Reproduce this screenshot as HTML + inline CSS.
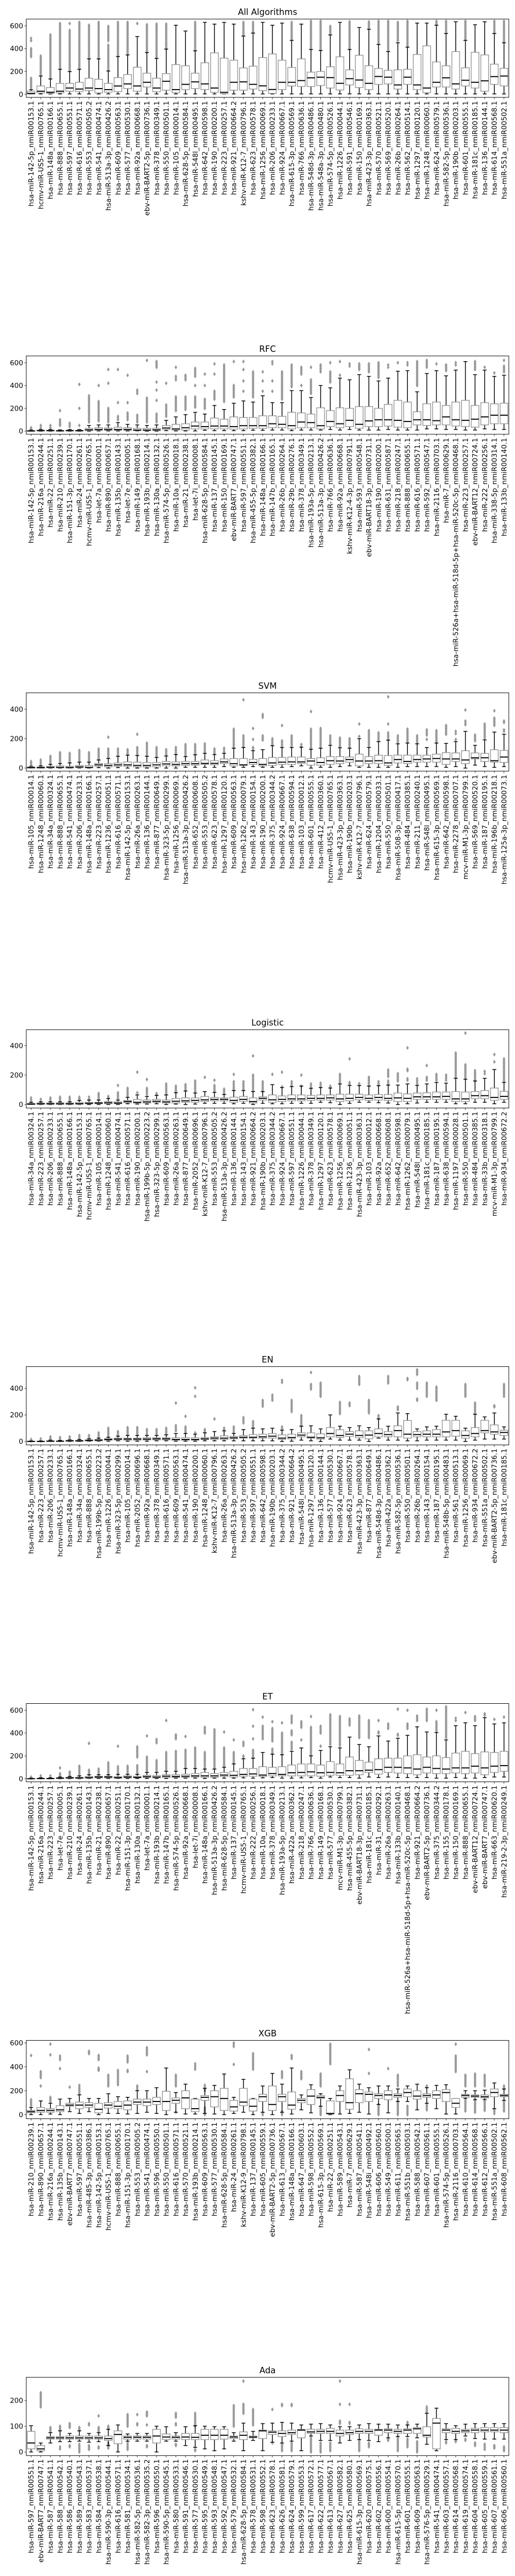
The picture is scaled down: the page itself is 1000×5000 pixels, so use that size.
<!DOCTYPE html>
<html><head><meta charset="utf-8"><style>
html,body{margin:0;padding:0;background:#fff;}
svg{display:block;font-family:"DejaVu Sans","Liberation Sans",sans-serif;}
</style></head><body>
<svg id="chart" width="1000" height="5000" viewBox="0 0 1000 5000" xmlns="http://www.w3.org/2000/svg"></svg>
<script>
const LONG = "hsa-miR-526a+hsa-miR-518d-5p+hsa-miR-520c-5p_nmiR00468.1";
const panelTitles = ["All Algorithms","RFC","SVM","Logistic","EN","ET","XGB","Ada"];
const panelYLims = [[-27,659],[-27,659],[-21,512],[-24,508],[-26,564],[-27,659],[-34,621],[-14,290]];
const panelTicks = [[0,200,400,600],[0,200,400,600],[0,200,400],[0,200,400],[0,200,400],[0,200,400,600],[0,200,400,600],[0,100,200]];

const allLabels = ["hsa-miR-142-5p_nmiR00153.1","hcmv-miR-US5-1_nmiR00765.1","hsa-miR-148a_nmiR00166.1","hsa-miR-888_nmiR00655.1","hsa-miR-597_nmiR00551.1","hsa-miR-616_nmiR00571.1","hsa-miR-553_nmiR00505.2","hsa-miR-541_nmiR00474.1","hsa-miR-513a-3p_nmiR00426.2","hsa-miR-609_nmiR00563.1","hsa-miR-577_nmiR00530.1","hsa-miR-92a_nmiR00668.1","ebv-miR-BART2-5p_nmiR00736.1","hsa-miR-378_nmiR00349.1","hsa-miR-550_nmiR00501.1","hsa-miR-105_nmiR00014.1","hsa-miR-628-5p_nmiR00584.1","hsa-miR-548l_nmiR00495.1","hsa-miR-642_nmiR00598.1","hsa-miR-190_nmiR00200.1","hsa-miR-223_nmiR00257.1","hsa-miR-921_nmiR00664.2","kshv-miR-K12-7_nmiR00796.1","hsa-miR-623_nmiR00578.1","hsa-miR-1256_nmiR00069.1","hsa-miR-206_nmiR00233.1","hsa-miR-924_nmiR00667.1","hsa-miR-615-3p_nmiR00569.1","hsa-miR-766_nmiR00636.1","hsa-miR-548d-3p_nmiR00486.1","hsa-miR-548a-3p_nmiR00480.1","hsa-miR-574-5p_nmiR00526.1","hsa-miR-1226_nmiR00044.1","hsa-miR-591_nmiR00546.1","hsa-miR-150_nmiR00169.1","hsa-miR-423-3p_nmiR00363.1","hsa-miR-570_nmiR00521.1","hsa-miR-569_nmiR00520.1","hsa-miR-26b_nmiR00264.1","hsa-miR-562_nmiR00514.1","hsa-miR-1297_nmiR00120.1","hsa-miR-1248_nmiR00060.1","hsa-miR-624_nmiR00579.1","hsa-miR-582-5p_nmiR00536.1","hsa-miR-190b_nmiR00203.1","hsa-miR-601_nmiR00555.1","hsa-miR-181c_nmiR00185.1","hsa-miR-136_nmiR00144.1","hsa-miR-614_nmiR00568.1","hsa-miR-551a_nmiR00502.1"];
const allStats = [[3,2,8,27,40],[3,12,27,73,160],[3,8,18,59,134],[3,12,27,96,219],[3,27,55,96,199],[3,23,46,105,219],[3,32,55,141,310],[3,12,50,132,310],[3,18,41,96,204],[3,23,73,146,331],[3,50,91,173,345],[3,27,73,237,506],[3,64,105,185,365],[3,23,55,141,314],[3,36,114,181,396],[3,14,41,260,605],[3,41,87,250,554],[3,50,109,185,381],[3,41,91,276,630],[3,17,55,363,615],[3,5,17,317,630],[3,36,105,299,615],[3,36,109,231,510],[3,46,87,246,536],[3,32,74,322,630],[3,8,42,354,605],[3,41,105,299,624],[3,73,105,235,472],[3,68,120,310,615],[3,68,144,194,392],[3,77,150,200,383],[3,55,146,241,520],[3,38,96,328,630],[3,82,137,214,392],[3,59,125,342,585],[3,41,96,250,570],[3,87,156,226,436],[3,91,150,210,374],[3,46,82,214,451],[3,87,150,219,413],[3,41,82,349,624],[3,14,55,424,624],[3,64,105,283,605],[3,64,144,250,532],[3,46,91,374,635],[3,73,123,232,472],[3,55,105,368,609],[3,27,118,345,635],[3,87,155,264,532],[3,73,160,228,451]];
const allFliers = [[[55,140],[330,400],[470,490]],[[170,335]],[[140,520]],[[225,620]],[[205,560],[620,620]],[[225,630]],[[315,605]],[[315,630]],[[210,430],[470,595]],[[335,630]],[[350,630]],[[620,620]],[[370,610]],[[320,615]],[[400,615]],[],[],[[385,630]],[],[],[],[],[[520,630]],[[545,630]],[],[],[],[[480,630]],[],[[400,640]],[[390,640]],[[530,595]],[],[[400,635]],[],[[580,635]],[[445,640]],[[380,640]],[[470,630]],[[420,640]],[],[],[[615,640]],[[540,640]],[],[[480,640]],[],[],[[540,640]],[[460,640]]];

const rfcLabels = ["hsa-miR-142-5p_nmiR00153.1","hsa-miR-216a_nmiR00244.1","hsa-miR-22_nmiR00251.1","hsa-miR-210_nmiR00239.1","hsa-miR-151-3p_nmiR00170.1","hsa-miR-24_nmiR00261.1","hcmv-miR-US5-1_nmiR00765.1","hsa-let-7a_nmiR00001.1","hsa-miR-890_nmiR00657.1","hsa-miR-135b_nmiR00143.1","hsa-let-7e_nmiR00005.1","hsa-miR-149_nmiR00168.1","hsa-miR-193b_nmiR00214.1","hsa-miR-130a_nmiR00132.1","hsa-miR-574-5p_nmiR00526.1","hsa-miR-10a_nmiR00018.1","hsa-miR-21_nmiR00238.1","hsa-let-7i_nmiR00008.1","hsa-miR-628-5p_nmiR00584.1","hsa-miR-137_nmiR00145.1","hsa-miR-150_nmiR00169.1","ebv-miR-BART7_nmiR00747.1","hsa-miR-597_nmiR00551.1","hsa-miR-455-5p_nmiR00382.1","hsa-miR-148a_nmiR00166.1","hsa-miR-147b_nmiR00165.1","hsa-miR-26b_nmiR00264.1","hsa-miR-29b_nmiR00276.1","hsa-miR-378_nmiR00349.1","hsa-miR-193a-5p_nmiR00213.1","hsa-miR-513a-3p_nmiR00426.2","hsa-miR-766_nmiR00636.1","hsa-miR-92a_nmiR00668.1","kshv-miR-K12-4-3p_nmiR00791.1","hsa-miR-593_nmiR00548.1","ebv-miR-BART18-3p_nmiR00731.1","hsa-miR-190_nmiR00200.1","hsa-miR-631_nmiR00587.1","hsa-miR-218_nmiR00247.1","hsa-miR-888_nmiR00655.1","hsa-miR-616_nmiR00571.1","hsa-miR-592_nmiR00547.1","hsa-miR-2116_nmiR00703.1","hsa-miR-7_nmiR00629.1",LONG,"hsa-miR-223_nmiR00257.1","ebv-miR-BART12_nmiR00724.1","hsa-miR-222_nmiR00256.1","hsa-miR-338-5p_nmiR00314.1","hsa-miR-133b_nmiR00140.1"];
const rfcStats = [[0,0,2,5,10],[0,2,5,8,15],[0,2,5,8,15],[0,1,3,6,12],[0,2,5,8,15],[0,2,4,8,15],[0,5,12,25,50],[2,8,15,30,55],[2,8,15,28,55],[2,8,15,35,75],[2,8,15,30,60],[2,5,10,25,55],[0,5,10,25,50],[0,5,12,25,55],[5,15,28,50,95],[2,10,20,60,125],[2,10,30,65,145],[2,20,45,80,165],[8,20,40,80,150],[5,20,45,115,225],[5,20,45,105,190],[5,18,40,125,245],[5,20,48,120,265],[8,25,48,120,255],[8,25,48,135,310],[10,30,65,135,250],[10,30,60,130,250],[5,20,48,165,355],[10,30,80,160,355],[10,30,75,150,295],[10,20,48,205,400],[15,40,85,180,380],[10,30,65,205,465],[15,40,95,200,450],[10,25,60,215,495],[10,40,90,215,480],[10,40,100,200,440],[15,45,100,235,465],[10,35,95,270,525],[10,30,85,255,530],[10,55,100,170,345],[20,50,100,240,505],[20,55,92,255,530],[15,55,125,225,485],[15,45,100,255,535],[10,40,95,270,610],[10,35,105,225,495],[20,55,125,250,535],[15,65,140,240,480],[15,65,140,245,490]];
const rfcFliers = [[[20,30]],[[30,50]],[[30,50]],[[50,100],[180,180]],[[40,70]],[[50,50],[200,200],[410,410]],[[80,310]],[[90,260],[400,400]],[[80,200],[420,420],[540,540]],[[100,130],[250,250],[540,540]],[[100,160],[250,250],[490,490]],[[80,140],[330,360]],[[80,290],[620,620]],[[80,150],[270,270],[360,360],[430,430],[560,610]],[[130,230],[420,420]],[[180,300],[450,480],[560,560]],[[190,300],[450,490]],[[210,300],[400,400],[480,550]],[[200,280],[400,400],[500,500]],[[280,350],[500,500],[590,590]],[[260,580]],[[300,400],[610,610]],[[350,350],[440,440],[540,540],[610,610]],[[300,520]],[[350,350],[440,440],[520,520]],[[350,350],[440,440],[590,610]],[[280,520]],[[390,580]],[[400,400],[500,560]],[[330,450],[560,560]],[[520,580]],[[430,520],[600,600]],[[490,490],[610,610]],[[570,590]],[[540,590]],[[520,590]],[[470,600]],[[560,580]],[[600,600]],[[580,600]],[[400,610]],[[560,620]],[[590,590]],[[530,580]],[[580,600]],[],[[540,610]],[[560,560]],[[510,510]],[[520,570],[620,620]]];

const svmLabels = ["hsa-miR-105_nmiR00014.1","hsa-miR-1248_nmiR00060.1","hsa-miR-34a_nmiR00324.1","hsa-miR-888_nmiR00655.1","hsa-miR-541_nmiR00474.1","hsa-miR-206_nmiR00233.1","hsa-miR-148a_nmiR00166.1","hsa-miR-223_nmiR00257.1","hsa-miR-1236_nmiR00051.1","hsa-miR-616_nmiR00571.1","hsa-miR-142-5p_nmiR00153.1","hsa-miR-26a_nmiR00263.1","hsa-miR-136_nmiR00144.1","hsa-miR-877_nmiR00649.1","hsa-miR-323-5p_nmiR00299.1","hsa-miR-1256_nmiR00069.1","hsa-miR-513a-3p_nmiR00426.2","hsa-miR-652_nmiR00608.1","hsa-miR-553_nmiR00505.2","hsa-miR-623_nmiR00578.1","hsa-miR-1297_nmiR00120.1","hsa-miR-609_nmiR00563.1","hsa-miR-1262_nmiR00079.1","hsa-miR-143_nmiR00154.1","hsa-miR-190_nmiR00200.1","hsa-miR-375_nmiR00344.2","hsa-miR-924_nmiR00667.1","hsa-miR-638_nmiR00594.1","hsa-miR-103_nmiR00012.1","hsa-miR-601_nmiR00555.1","hsa-miR-412_nmiR00360.1","hcmv-miR-US5-1_nmiR00765.1","hsa-miR-423-3p_nmiR00363.1","hsa-miR-190b_nmiR00203.1","kshv-miR-K12-7_nmiR00796.1","hsa-miR-624_nmiR00579.1","hsa-miR-1204_nmiR00033.1","hsa-miR-550_nmiR00501.1","hsa-miR-508-3p_nmiR00417.1","hsa-miR-484_nmiR00385.1","hsa-miR-211_nmiR00240.1","hsa-miR-548l_nmiR00495.1","hsa-miR-615-3p_nmiR00569.1","hsa-miR-642_nmiR00598.1","hsa-miR-2278_nmiR00707.1","mcv-miR-M1-3p_nmiR00799.1","hsa-miR-569_nmiR00520.1","hsa-miR-187_nmiR00195.1","hsa-miR-196b_nmiR00218.1","hsa-miR-125a-3p_nmiR00073.1"];
const svmStats = [[0,0,3,8,12],[0,0,3,8,15],[0,2,5,12,25],[0,2,5,15,30],[0,1,4,12,35],[0,3,8,18,40],[0,2,5,18,40],[3,12,22,32,55],[0,8,18,30,65],[3,12,22,35,80],[0,12,22,42,88],[0,8,18,40,85],[0,8,18,38,80],[0,8,22,38,72],[0,15,28,45,82],[0,15,25,42,92],[5,18,30,45,78],[5,20,30,45,90],[5,25,32,55,100],[5,22,32,50,92],[10,30,42,62,100],[5,15,30,65,135],[5,18,22,65,140],[10,25,38,60,118],[5,15,25,65,125],[5,18,35,72,152],[5,25,40,72,140],[10,25,42,75,140],[15,30,42,75,142],[0,20,48,65,128],[5,20,38,70,135],[5,25,50,78,155],[10,30,48,78,138],[15,40,58,75,135],[5,15,48,95,200],[5,30,48,78,140],[5,30,50,88,180],[5,18,35,85,190],[5,35,58,88,165],[10,30,45,88,170],[10,40,58,88,165],[10,40,62,88,140],[10,40,65,95,170],[5,25,62,105,168],[10,45,62,103,180],[0,30,55,118,250],[20,62,70,103,155],[10,45,70,100,192],[5,40,50,125,245],[10,38,75,120,230]];
const svmFliers = [[[15,45]],[[20,55]],[[30,80]],[[35,105]],[[40,100]],[[45,120]],[[45,105]],[[60,130]],[[70,130],[210,210]],[[85,130]],[[95,125]],[[90,140],[230,230]],[[85,170]],[[80,140]],[[90,125]],[[95,140]],[[85,160]],[[95,160]],[[110,165]],[[100,130]],[[110,135]],[[140,265]],[[145,220],[465,465]],[[130,140],[195,200],[270,270]],[[190,220],[345,365]],[[160,200]],[[150,185],[290,290]],[[150,220]],[[145,160]],[[130,265],[385,385]],[[140,270]],[[165,220]],[[145,205]],[[140,200]],[[215,220],[300,300]],[[150,255]],[[185,240]],[[195,240],[300,300],[485,485]],[[175,220]],[[175,265]],[[170,220]],[[195,200],[225,260]],[[175,255]],[[230,290]],[[195,200],[235,250]],[[295,320],[395,395]],[[185,225]],[[205,300]],[[290,340],[390,390]],[[250,260],[310,320]]];

const logLabels = ["hsa-miR-34a_nmiR00324.1","hsa-miR-223_nmiR00257.1","hsa-miR-206_nmiR00233.1","hsa-miR-888_nmiR00655.1","hsa-miR-148a_nmiR00166.1","hsa-miR-142-5p_nmiR00153.1","hcmv-miR-US5-1_nmiR00765.1","hsa-miR-105_nmiR00014.1","hsa-miR-1248_nmiR00060.1","hsa-miR-541_nmiR00474.1","hsa-miR-616_nmiR00571.1","hsa-miR-190_nmiR00200.1","hsa-miR-199b-5p_nmiR00223.2","hsa-miR-323-5p_nmiR00299.1","hsa-miR-609_nmiR00563.1","hsa-miR-26a_nmiR00263.1","hsa-miR-877_nmiR00649.1","hsa-miR-2052_nmiR00696.1","kshv-miR-K12-7_nmiR00796.1","hsa-miR-553_nmiR00505.2","hsa-miR-513a-3p_nmiR00426.2","hsa-miR-136_nmiR00144.1","hsa-miR-143_nmiR00154.1","hsa-miR-921_nmiR00664.2","hsa-miR-190b_nmiR00203.1","hsa-miR-375_nmiR00344.2","hsa-miR-924_nmiR00667.1","hsa-miR-597_nmiR00551.1","hsa-miR-1226_nmiR00044.1","hsa-miR-378_nmiR00349.1","hsa-miR-1297_nmiR00120.1","hsa-miR-623_nmiR00578.1","hsa-miR-1256_nmiR00069.1","hsa-miR-1236_nmiR00051.1","hsa-miR-423-3p_nmiR00363.1","hsa-miR-103_nmiR00012.1","hsa-miR-92a_nmiR00668.1","hsa-miR-652_nmiR00608.1","hsa-miR-642_nmiR00598.1","hsa-miR-1262_nmiR00079.1","hsa-miR-548l_nmiR00495.1","hsa-miR-181c_nmiR00185.1","hsa-miR-187_nmiR00195.1","hsa-miR-638_nmiR00594.1","hsa-miR-1197_nmiR00028.1","hsa-miR-550_nmiR00501.1","hsa-miR-484_nmiR00385.1","hsa-miR-33b_nmiR00318.1","mcv-miR-M1-3p_nmiR00799.1","hsa-miR-934_nmiR00672.2"];
const logStats = [[0,0,3,8,15],[0,2,5,10,18],[0,2,5,10,18],[0,2,5,12,18],[0,2,5,10,18],[0,2,6,15,28],[0,5,8,15,30],[0,5,10,15,30],[0,5,12,20,40],[0,5,10,18,30],[5,12,20,28,48],[3,10,15,35,65],[3,10,18,30,55],[5,15,22,35,62],[0,10,18,30,65],[3,10,22,42,80],[0,15,25,45,92],[3,15,28,45,78],[8,20,32,55,88],[8,25,35,48,82],[8,25,35,45,68],[5,15,28,50,95],[8,22,35,55,95],[0,10,20,45,88],[8,30,42,52,88],[5,15,32,65,135],[5,20,35,58,115],[8,25,38,65,122],[8,25,38,65,125],[8,28,42,62,110],[15,30,42,65,115],[12,30,45,65,112],[0,20,38,70,140],[8,25,42,70,130],[15,32,48,70,128],[15,28,42,65,125],[12,30,48,68,128],[10,28,42,68,132],[0,20,45,78,132],[5,20,42,72,140],[10,35,52,78,130],[15,35,52,80,140],[15,35,52,85,150],[15,35,55,85,145],[5,20,38,88,178],[5,20,38,85,172],[15,40,60,88,160],[15,40,60,95,178],[5,28,48,112,238],[15,35,55,90,150]];
const logFliers = [[[20,45]],[[20,35]],[[22,45]],[[22,50]],[[22,50]],[[32,50]],[[35,50]],[[35,75]],[[45,55]],[[40,80],[130,130]],[[55,110]],[[80,85],[220,220]],[[70,110],[170,170]],[[65,75]],[[70,140]],[[85,125]],[[95,135]],[[85,160]],[[185,185]],[[90,130],[165,165]],[[75,105]],[[100,155],[205,205]],[[100,155]],[[95,200],[330,330]],[[90,155]],[[205,205]],[[120,125],[220,220]],[[130,155]],[[125,130],[200,200]],[[115,140]],[[120,145]],[[115,125]],[[150,205]],[[140,150],[310,310]],[[132,142]],[[130,185]],[[130,155]],[[135,160],[190,235]],[[160,210]],[[165,175],[230,240],[385,385]],[[140,175]],[[165,185],[265,265]],[[165,205]],[[165,200]],[[185,350]],[[180,270],[485,485]],[[160,230]],[[210,225]],[[290,290],[340,345]],[[160,310]]];

const enLabels = ["hsa-miR-142-5p_nmiR00153.1","hsa-miR-223_nmiR00257.1","hsa-miR-206_nmiR00233.1","hcmv-miR-US5-1_nmiR00765.1","hsa-miR-148a_nmiR00166.1","hsa-miR-34a_nmiR00324.1","hsa-miR-888_nmiR00655.1","hsa-miR-199b-5p_nmiR00223.2","hsa-miR-1226_nmiR00044.1","hsa-miR-323-5p_nmiR00299.1","hsa-miR-105_nmiR00014.1","hsa-miR-2052_nmiR00696.1","hsa-miR-92a_nmiR00668.1","hsa-miR-378_nmiR00349.1","hsa-miR-616_nmiR00571.1","hsa-miR-609_nmiR00563.1","hsa-miR-541_nmiR00474.1","hsa-miR-190_nmiR00200.1","hsa-miR-1248_nmiR00060.1","kshv-miR-K12-7_nmiR00796.1","hsa-miR-26a_nmiR00263.1","hsa-miR-513a-3p_nmiR00426.2","hsa-miR-553_nmiR00505.2","hsa-miR-597_nmiR00551.1","hsa-miR-642_nmiR00598.1","hsa-miR-190b_nmiR00203.1","hsa-miR-375_nmiR00344.2","hsa-miR-921_nmiR00664.2","hsa-miR-548l_nmiR00495.1","hsa-miR-1297_nmiR00120.1","hsa-miR-136_nmiR00144.1","hsa-miR-577_nmiR00530.1","hsa-miR-924_nmiR00667.1","hsa-miR-623_nmiR00578.1","hsa-miR-423-3p_nmiR00363.1","hsa-miR-877_nmiR00649.1","hsa-miR-548d-3p_nmiR00486.1","hsa-miR-422a_nmiR00362.1","hsa-miR-582-5p_nmiR00536.1","hsa-miR-550_nmiR00501.1","hsa-miR-26b_nmiR00264.1","hsa-miR-143_nmiR00154.1","hsa-miR-187_nmiR00195.1","hsa-miR-548b-5p_nmiR00483.1","hsa-miR-561_nmiR00513.1","hsa-miR-1256_nmiR00069.1","hsa-miR-934_nmiR00672.2","hsa-miR-551a_nmiR00502.1","ebv-miR-BART2-5p_nmiR00736.1","hsa-miR-181c_nmiR00185.1"];
const enStats = [[0,0,0,2,5],[0,0,0,2,5],[0,0,2,5,10],[0,0,2,3,8],[0,2,5,8,12],[0,2,5,8,15],[2,5,8,12,20],[2,5,10,15,25],[2,10,15,22,32],[5,12,18,25,40],[2,10,18,25,45],[2,10,18,25,45],[2,12,18,28,45],[5,12,20,28,45],[5,12,20,28,50],[2,10,15,28,60],[2,10,15,28,60],[2,10,15,28,55],[5,15,20,30,65],[5,15,25,35,75],[5,15,25,42,80],[5,20,28,38,60],[5,25,32,45,90],[5,25,32,52,100],[5,25,35,55,95],[5,25,40,60,100],[0,15,25,50,85],[2,20,30,55,90],[10,35,48,65,115],[5,25,32,65,118],[0,18,28,58,95],[18,35,60,105,200],[10,30,45,88,115],[10,38,55,75,105],[10,28,45,80,118],[0,20,48,80,105],[25,35,60,95,170],[10,35,52,75,115],[10,35,82,118,215],[5,25,55,158,210],[5,35,52,75,95],[10,35,55,80,110],[10,35,55,90,115],[10,35,72,160,205],[10,40,82,160,190],[0,25,45,80,100],[10,35,60,105,205],[18,65,82,160,185],[18,55,72,125,215],[18,45,68,85,110]];
const enFliers = [[[5,15]],[[5,20]],[[15,35]],[[10,30]],[[15,35]],[[18,45]],[[25,45]],[[30,65]],[[40,100]],[[45,75]],[[50,105]],[[50,105]],[[50,90]],[[55,90]],[[55,100]],[[80,120],[290,290]],[[65,110],[190,190]],[[65,70],[340,340],[405,410]],[[70,90]],[[170,175]],[[90,100]],[[70,110]],[[140,180]],[[110,150]],[[265,310]],[[310,350]],[[95,110],[445,460]],[[225,310]],[[120,195]],[[395,430],[520,520]],[[340,440]],[],[[210,295]],[[270,290]],[[430,490]],[[215,310]],[[170,195]],[[440,490]],[[240,260]],[[465,475]],[[310,320],[400,440],[505,540]],[[340,440]],[[310,410]],[],[],[[340,430]],[[210,290]],[],[[260,270]],[[340,430]]];

const etLabels = ["hsa-miR-142-5p_nmiR00153.1","hsa-miR-216a_nmiR00244.1","hsa-miR-223_nmiR00257.1","hsa-let-7e_nmiR00005.1","hsa-miR-210_nmiR00239.1","hsa-miR-24_nmiR00261.1","hsa-miR-135b_nmiR00143.1","hsa-miR-21_nmiR00238.1","hsa-miR-890_nmiR00657.1","hsa-miR-22_nmiR00251.1","hsa-miR-151-3p_nmiR00170.1","hsa-miR-130a_nmiR00132.1","hsa-let-7a_nmiR00001.1","hsa-miR-193b_nmiR00214.1","hsa-miR-147b_nmiR00165.1","hsa-miR-574-5p_nmiR00526.1","hsa-miR-92a_nmiR00668.1","hsa-let-7i_nmiR00008.1","hsa-miR-148a_nmiR00166.1","hsa-miR-513a-3p_nmiR00426.2","hsa-miR-628-5p_nmiR00584.1","hsa-miR-137_nmiR00145.1","hcmv-miR-US5-1_nmiR00765.1","hsa-miR-222_nmiR00256.1","hsa-miR-10a_nmiR00018.1","hsa-miR-378_nmiR00349.1","hsa-miR-193a-5p_nmiR00213.1","hsa-miR-422a_nmiR00362.1","hsa-miR-218_nmiR00247.1","hsa-miR-766_nmiR00636.1","hsa-miR-149_nmiR00168.1","hsa-miR-577_nmiR00530.1","mcv-miR-M1-3p_nmiR00799.1","hsa-miR-455-5p_nmiR00382.1","ebv-miR-BART18-3p_nmiR00731.1","hsa-miR-181c_nmiR00185.1","hsa-miR-31_nmiR00292.1","hsa-miR-26a_nmiR00263.1","hsa-miR-133b_nmiR00140.1",LONG,"hsa-miR-921_nmiR00664.2","ebv-miR-BART2-5p_nmiR00736.1","hsa-miR-375_nmiR00344.2","hsa-miR-155_nmiR00178.1","hsa-miR-150_nmiR00169.1","hsa-miR-888_nmiR00655.1","ebv-miR-BART12_nmiR00724.1","ebv-miR-BART7_nmiR00747.1","hsa-miR-663_nmiR00620.1","hsa-miR-219-2-3p_nmiR00249.1"];
const etStats = [[0,0,0,2,5],[0,0,2,3,8],[0,0,2,3,8],[0,2,5,8,15],[0,3,8,12,20],[0,3,8,12,25],[2,5,10,20,35],[2,8,15,22,35],[2,8,15,22,35],[2,5,10,18,38],[2,8,15,25,38],[2,8,12,22,38],[2,12,18,30,55],[2,8,15,28,55],[2,10,22,35,65],[5,12,20,35,65],[5,12,22,40,90],[5,15,25,45,90],[2,12,25,55,85],[5,12,25,45,85],[5,20,32,55,100],[5,15,30,65,130],[8,22,38,90,175],[5,22,42,90,180],[8,20,32,105,230],[10,25,45,100,215],[5,25,38,105,210],[5,25,52,120,240],[8,25,55,130,270],[10,25,60,130,200],[5,22,52,120,248],[15,30,55,150,280],[10,30,52,130,270],[10,30,70,190,365],[5,35,70,160,300],[15,55,75,145,280],[10,40,80,175,375],[15,55,100,180,330],[10,50,100,180,355],[10,45,95,200,380],[10,35,85,210,455],[10,50,100,190,410],[5,45,90,200,405],[5,45,85,185,340],[10,50,95,225,465],[5,45,95,240,490],[5,50,110,220,465],[10,35,95,235,535],[15,55,110,230,480],[15,65,115,240,490]];
const etFliers = [[[5,15]],[[10,25]],[[10,25]],[[20,45],[95,100]],[[25,60]],[[30,110]],[[40,75],[310,310]],[[40,85]],[[40,140]],[[45,105],[285,285]],[[45,110]],[[45,115],[190,280]],[[60,190],[375,375]],[[65,160],[315,345]],[[75,230],[510,510]],[[75,240],[350,385]],[[95,250],[370,370]],[[95,270]],[[90,230],[400,450]],[[95,430]],[[110,270],[410,410]],[[140,230],[340,345]],[[190,200],[290,320]],[[185,250],[350,350],[460,460],[605,605]],[[350,460],[540,540]],[[220,260],[330,440],[500,500]],[[215,400],[490,490]],[[260,320],[385,420],[490,550]],[[340,340],[450,500]],[[210,450],[545,545]],[[285,285],[400,460]],[[300,560]],[[290,545]],[[470,525]],[[360,550]],[[360,510]],[[400,410],[510,510]],[[440,480]],[[380,390],[610,610]],[[440,480],[600,600]],[[510,550]],[[510,610]],[[420,500],[600,600]],[[360,630]],[[510,530]],[[580,580]],[[510,545]],[[555,570]],[[520,520]],[[540,540]]];

const xgbLabels = ["hsa-miR-210_nmiR00239.1","hsa-miR-890_nmiR00657.1","hsa-miR-216a_nmiR00244.1","hsa-miR-135b_nmiR00143.1","ebv-miR-BART7_nmiR00747.1","hsa-miR-597_nmiR00551.1","hsa-miR-485-3p_nmiR00386.1","hsa-miR-142-5p_nmiR00153.1","hcmv-miR-US5-1_nmiR00765.1","hsa-miR-888_nmiR00655.1","hsa-miR-151-3p_nmiR00170.1","hsa-miR-553_nmiR00505.2","hsa-miR-541_nmiR00474.1","hsa-miR-596_nmiR00550.1","hsa-miR-550_nmiR00501.1","hsa-miR-616_nmiR00571.1","hsa-miR-570_nmiR00521.1","hsa-miR-193b_nmiR00214.1","hsa-miR-609_nmiR00563.1","hsa-miR-577_nmiR00530.1","hsa-miR-628-5p_nmiR00584.1","hsa-miR-24_nmiR00261.1","kshv-miR-K12-9_nmiR00798.1","hsa-miR-137_nmiR00145.1","hsa-miR-605_nmiR00559.1","ebv-miR-BART2-5p_nmiR00736.1","hsa-miR-613_nmiR00567.1","hsa-miR-148a_nmiR00166.1","hsa-miR-647_nmiR00603.1","hsa-miR-598_nmiR00552.1","hsa-miR-615-3p_nmiR00569.1","hsa-miR-22_nmiR00251.1","hsa-miR-589_nmiR00543.1","hsa-miR-7_nmiR00629.1","hsa-miR-587_nmiR00541.1","hsa-miR-548i_nmiR00492.1","hsa-miR-606_nmiR00560.1","hsa-miR-549_nmiR00500.1","hsa-miR-611_nmiR00565.1","hsa-miR-551b_nmiR00503.1","hsa-miR-588_nmiR00542.1","hsa-miR-607_nmiR00561.1","hsa-miR-601_nmiR00555.1","hsa-miR-574-5p_nmiR00526.1","hsa-miR-2116_nmiR00703.1","hsa-miR-610_nmiR00564.1","hsa-miR-614_nmiR00568.1","hsa-miR-612_nmiR00566.1","hsa-miR-551a_nmiR00502.1","hsa-miR-608_nmiR00562.1"];
const xgbStats = [[0,15,25,35,60],[0,20,35,60,115],[5,20,35,50,95],[0,25,40,75,130],[25,70,80,95,135],[10,50,80,105,165],[25,60,80,100,135],[0,15,45,95,135],[10,55,80,100,175],[10,50,70,110,150],[5,40,80,115,145],[10,85,105,130,200],[20,75,105,130,200],[10,85,110,145,225],[0,35,110,195,390],[20,95,120,140,185],[5,50,140,200,255],[5,25,50,130,135],[10,120,145,160,220],[5,65,150,200,245],[0,35,135,220,340],[10,30,65,120,145],[20,75,105,220,295],[0,30,70,130,135],[20,110,150,170,240],[0,35,85,240,345],[20,110,150,170,255],[5,45,80,190,390],[40,100,120,135,165],[15,85,155,210,250],[70,135,145,160,175],[0,5,10,115,135],[5,110,160,200,240],[10,45,100,300,375],[20,100,175,210,255],[5,110,170,190,225],[85,135,160,175,240],[15,125,165,200,240],[110,145,160,175,215],[110,150,185,215,240],[40,130,155,200,255],[95,145,160,175,225],[50,135,165,200,245],[5,110,185,210,250],[5,60,95,135,135],[135,145,160,170,200],[125,145,155,165,200],[125,140,150,165,205],[50,150,185,215,265],[120,150,160,170,215]];
const xgbFliers = [[[75,125],[495,495]],[[240,245],[310,360]],[[110,145],[500,500],[590,590]],[[385,390],[460,490]],[[230,235]],[[175,245]],[[510,530]],[[370,390],[460,495]],[[240,330]],[[250,370]],[[360,370],[440,490]],[[210,240]],[[360,360],[500,560]],[],[],[[20,25],[240,330]],[],[[380,425]],[[0,60],[200,245]],[],[],[[420,420],[570,600]],[],[[380,510]],[[0,15]],[],[[0,25],[310,360]],[[470,495]],[[300,360]],[],[[0,65],[240,340]],[[425,590]],[],[],[],[[345,345],[545,545]],[[0,85]],[[385,385]],[[0,110],[240,330]],[[0,70]],[],[[40,90],[230,240]],[],[],[[360,490],[590,590]],[[30,120],[240,330]],[[20,120],[240,340]],[[35,110],[240,330]],[[10,40]],[[30,110],[215,240]]];

const adaLabels = ["hsa-miR-597_nmiR00551.1","ebv-miR-BART7_nmiR00747.1","hsa-miR-587_nmiR00541.1","hsa-miR-588_nmiR00542.1","hsa-miR-586_nmiR00540.1","hsa-miR-589_nmiR00543.1","hsa-miR-583_nmiR00537.1","hsa-miR-584_nmiR00538.1","hsa-miR-590-3p_nmiR00544.1","hsa-miR-616_nmiR00571.1","hsa-miR-581_nmiR00534.1","hsa-miR-582-5p_nmiR00536.1","hsa-miR-582-3p_nmiR00535.2","hsa-miR-596_nmiR00550.1","hsa-miR-590-5p_nmiR00545.1","hsa-miR-580_nmiR00533.1","hsa-miR-591_nmiR00546.1","hsa-miR-577_nmiR00530.1","hsa-miR-595_nmiR00549.1","hsa-miR-593_nmiR00548.1","hsa-miR-592_nmiR00547.1","hsa-miR-579_nmiR00532.1","hsa-miR-628-5p_nmiR00584.1","hsa-miR-578_nmiR00531.1","hsa-miR-598_nmiR00552.1","hsa-miR-623_nmiR00578.1","hsa-miR-626_nmiR00581.1","hsa-miR-624_nmiR00579.1","hsa-miR-599_nmiR00553.1","hsa-miR-617_nmiR00572.1","hsa-miR-622_nmiR00577.1","hsa-miR-613_nmiR00567.1","hsa-miR-627_nmiR00582.1","hsa-miR-625_nmiR00580.1","hsa-miR-615-3p_nmiR00569.1","hsa-miR-620_nmiR00575.1","hsa-miR-602_nmiR00556.1","hsa-miR-600_nmiR00554.1","hsa-miR-615-5p_nmiR00570.1","hsa-miR-601_nmiR00555.1","hsa-miR-609_nmiR00563.1","hsa-miR-576-5p_nmiR00529.1","hsa-miR-541_nmiR00474.1","hsa-miR-603_nmiR00557.1","hsa-miR-614_nmiR00568.1","hsa-miR-619_nmiR00574.1","hsa-miR-604_nmiR00558.1","hsa-miR-605_nmiR00559.1","hsa-miR-607_nmiR00561.1","hsa-miR-606_nmiR00560.1"];
const adaStats = [[0,12,35,80,102],[0,5,12,25,35],[35,50,55,60,75],[40,50,55,60,82],[40,50,55,62,72],[42,50,55,62,82],[38,50,55,62,72],[40,50,55,62,75],[25,45,52,62,88],[0,32,68,82,105],[42,50,57,62,70],[42,50,57,62,72],[42,50,57,62,72],[0,35,62,88,100],[42,48,58,70,98],[42,50,57,62,75],[25,48,58,72,98],[18,48,57,72,102],[12,48,65,88,100],[5,48,65,88,98],[12,50,65,88,98],[42,52,58,62,75],[5,48,65,78,112],[45,55,58,62,80],[5,52,82,85,110],[38,68,77,82,112],[35,60,72,82,115],[42,68,75,85,112],[5,55,85,88,105],[62,72,78,88,108],[45,72,80,88,110],[45,72,80,92,105],[35,62,72,85,98],[45,68,75,85,98],[48,72,80,90,105],[45,72,80,88,110],[40,65,85,88,108],[55,75,85,90,108],[60,72,80,88,105],[60,72,85,90,105],[55,72,90,95,108],[30,58,65,98,150],[5,12,112,130,170],[48,75,85,90,110],[48,72,80,92,102],[62,75,82,88,108],[52,75,85,92,110],[50,78,85,95,110],[50,78,85,95,110],[50,75,85,95,110]];
const adaFliers = [[],[[175,230]],[[80,95]],[[12,20],[85,100]],[[20,25],[95,110]],[[0,30],[85,95]],[[10,25],[105,110]],[[15,20],[80,95],[140,140]],[[15,35],[90,100]],[],[[10,35],[100,145]],[[105,110],[145,145]],[[20,25],[105,105],[140,155]],[],[],[[25,30],[105,110],[135,150]],[],[[5,10],[100,150]],[],[],[],[[100,180]],[[150,185],[275,275]],[[105,165]],[],[[35,35],[165,165]],[[5,30],[180,185]],[[5,35],[180,185]],[],[[0,55]],[[0,35]],[[5,35]],[[110,120],[185,185],[275,275]],[[110,115],[185,185]],[[5,45]],[[20,35]],[],[[45,50]],[[5,55]],[[20,50],[105,115]],[[0,40]],[[155,175]],[],[[35,40]],[[40,45]],[[45,50]],[[25,35]],[[10,30]],[[15,25]],[[5,20]]];

const panelLabels = [allLabels,rfcLabels,svmLabels,logLabels,enLabels,etLabels,xgbLabels,adaLabels];
const panelStats = [allStats,rfcStats,svmStats,logStats,enStats,etStats,xgbStats,adaStats];
const panelFliers = [allFliers,rfcFliers,svmFliers,logFliers,enFliers,etFliers,xgbFliers,adaFliers];

const NS = "http://www.w3.org/2000/svg";
const svg = document.getElementById('chart');
function mk(tag, attrs, parent){const e=document.createElementNS(NS,tag);for(const k in attrs)e.setAttribute(k,attrs[k]);(parent||svg).appendChild(e);return e;}
const AX_L = 51, AX_R = 988, AX_H = 152, PANEL_TOP0 = 37, PANEL_STEP = 653.9;
const GRAY = "#999999";

for (let p = 0; p < 8; p++) {
  const top = PANEL_TOP0 + p * PANEL_STEP, bottom = top + AX_H;
  const [ymin, ymax] = panelYLims[p];
  const y = v => bottom - (v - ymin) / (ymax - ymin) * AX_H;
  const labels = panelLabels[p], stats = panelStats[p], fliers = panelFliers[p];
  const n = labels.length, step = (AX_R - AX_L) / n;
  const x = i => AX_L + step * (i + 0.5);
  const g = mk('g', {});
  
  
  const t = mk('text', {x:(AX_L+AX_R)/2, y:top-8, 'text-anchor':'middle', 'font-size':'16.5', fill:'#000'}, g);
  t.textContent = panelTitles[p];
  
  
  // y ticks
  panelTicks[p].forEach(v => {
    const yy = y(v);
    const tk = mk('line', {x1:AX_L-3.5, x2:AX_L, y1:yy, y2:yy, stroke:'#000', 'stroke-width':0.8}, g);
    
    
    const tl = mk('text', {x:AX_L-6, y:yy+4.8, 'text-anchor':'end', 'font-size':'13.5', fill:'#000'}, g);
    tl.textContent = v;
    
    
  });
  const bw = step * 0.8, cap = bw * 0.5;
  for (let i = 0; i < n; i++) {
    const cx = x(i);
    const [wlo, q1, med, q3, whi] = stats[i];
    const bg = mk('g', {}, g);
    
    
    // fliers
    fliers[i].forEach(r => {
      const ya = y(r[0]), yb = y(r[1]);
      const cnt = Math.max(1, Math.round((ya - yb) / 3) + 1);
      for (let k = 0; k < cnt; k++) {
        const yy = cnt === 1 ? ya : ya + (yb - ya) * k / (cnt - 1);
        const d = mk('path', {d:`M${cx},${yy-4} L${cx+2.6},${yy} L${cx},${yy+4} L${cx-2.6},${yy} Z`, fill:GRAY}, bg);
        
        
      }
    });
    const wl = mk('line', {x1:cx, x2:cx, y1:y(q3), y2:y(whi), stroke:'#000', 'stroke-width':1.5}, bg);
    
    
    const wl2 = mk('line', {x1:cx, x2:cx, y1:y(q1), y2:y(wlo), stroke:'#000', 'stroke-width':1.5}, bg);
    
    
    const c1 = mk('line', {x1:cx-cap/2, x2:cx+cap/2, y1:y(whi), y2:y(whi), stroke:'#000', 'stroke-width':1.5}, bg);
    
    
    const c2 = mk('line', {x1:cx-cap/2, x2:cx+cap/2, y1:y(wlo), y2:y(wlo), stroke:'#000', 'stroke-width':1.5}, bg);
    
    
    const rect = mk('rect', {x:cx-bw/2, y:y(q3), width:bw, height:Math.max(0.5, y(q1)-y(q3)), fill:'#fff', stroke:GRAY, 'stroke-width':1.5}, bg);
    
    
    const md = mk('line', {x1:cx-bw/2, x2:cx+bw/2, y1:y(med), y2:y(med), stroke:'#000', 'stroke-width':2}, bg);
    
    
    const xt = mk('line', {x1:cx, x2:cx, y1:bottom, y2:bottom+3.5, stroke:'#000', 'stroke-width':0.8}, g);
    
    
    const xl = mk('text', {transform:`translate(${cx+4.8},${bottom+7}) rotate(-90)`, 'text-anchor':'end', 'font-size':'13.5', fill:'#000'}, g);
    xl.textContent = labels[i];
    
    
  }
  const fr = mk('rect', {x:AX_L, y:top, width:AX_R-AX_L, height:AX_H, fill:'none', stroke:'#000', 'stroke-width':1}, g);
  
  
}
</script>
</body></html>
